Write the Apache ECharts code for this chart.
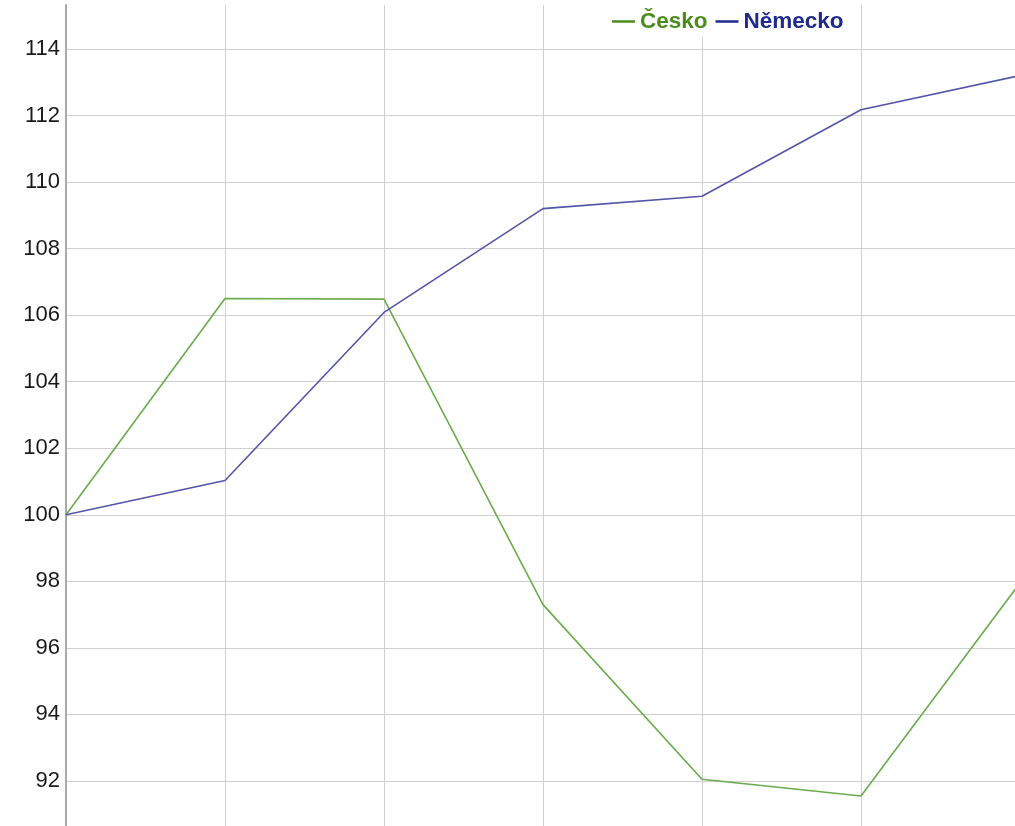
<!DOCTYPE html>
<html>
<head>
<meta charset="utf-8">
<script src="https://cdn.jsdelivr.net/npm/echarts@6/dist/echarts.min.js"></script>
<style>
  html, body { margin: 0; padding: 0; background: #fff; }
  #chart { width: 1015px; height: 826px; }
</style>
</head>
<body>
<div id="chart"></div>
<script>
var categories = ['2007', '2008', '2009', '2010', '2011', '2012', '2013'];
var cesko = [100, 106.5, 106.48, 97.3, 92.05, 91.55, 97.95];
var nemecko = [100, 101.03, 106.08, 109.2, 109.57, 112.17, 113.2];
var yTicksMin = 90;
var yTop = 115.32;

var myChart = echarts.init(document.getElementById('chart'));
var option = {
  animation: false,
  backgroundColor: '#fff',
  grid: { left: 66, right: -5, top: 5, bottom: -21.5, outerBoundsMode: 'none' },
  legend: {
    top: 0,
    left: 600,
    padding: [10, 16, 4, 12],
    backgroundColor: '#fff',
    icon: 'rect',
    itemWidth: 23,
    itemHeight: 2.5,
    itemGap: 8,
    textStyle: { fontFamily: 'Liberation Sans', fontWeight: 'bold', fontSize: 22.5 },
    data: [
      { name: 'Česko', itemStyle: { color: '#4c8c1e' }, textStyle: { color: '#4c8c1e' } },
      { name: 'Německo', itemStyle: { color: '#1e2a8c' }, textStyle: { color: '#1e2a8c' } }
    ]
  },
  xAxis: {
    type: 'category',
    data: categories,
    boundaryGap: false,
    axisLine: { show: false },
    axisTick: { show: false },
    axisLabel: { show: false },
    splitLine: { show: true, lineStyle: { color: '#cfcfcf', width: 1 } }
  },
  yAxis: {
    type: 'value',
    min: yTicksMin,
    max: yTop,
    interval: 2,
    axisLine: { show: true, lineStyle: { color: '#a8a8a8', width: 2 } },
    axisTick: { show: false },
    axisLabel: {
      showMaxLabel: false,
      margin: 6,
      color: '#1a1a1a',
      fontFamily: 'Liberation Sans',
      fontSize: 22
    },
    splitLine: { show: true, showMaxLine: false, lineStyle: { color: '#cfcfcf', width: 1 } }
  },
  series: [
    {
      name: 'Česko',
      type: 'line',
      data: cesko,
      showSymbol: false,
      lineStyle: { color: '#6aab4c', width: 1.6 },
      itemStyle: { color: '#6aab4c' }
    },
    {
      name: 'Německo',
      type: 'line',
      data: nemecko,
      showSymbol: false,
      lineStyle: { color: '#5454a8', width: 1.6 },
      itemStyle: { color: '#5454a8' }
    }
  ]
};
myChart.setOption(option);
window.addEventListener('resize', function () {
  myChart.resize();
});
</script>
</body>
</html>
